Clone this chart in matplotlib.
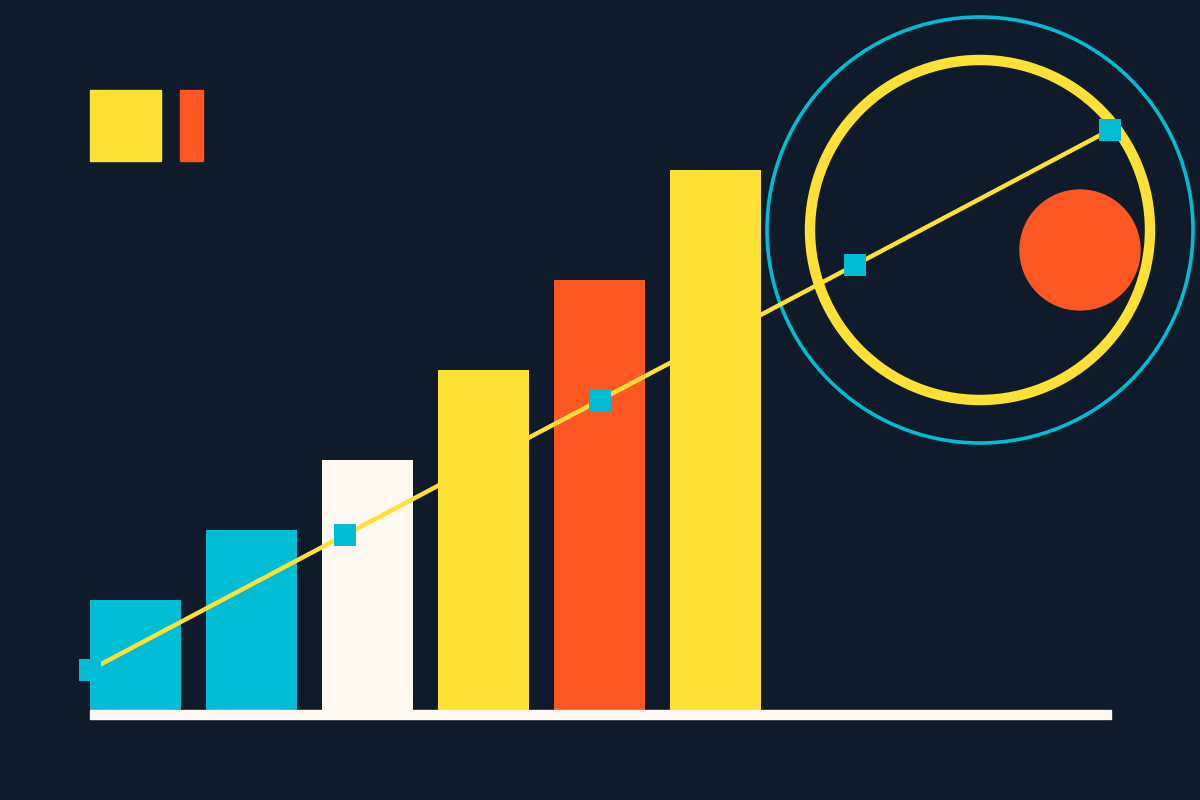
import matplotlib
matplotlib.use('Agg')
import matplotlib.pyplot as plt
from matplotlib.patches import Circle, Rectangle

BG = '#0F1B2A'
CYAN = '#00BCD4'
YELLOW = '#FFE135'
ORANGE = '#FF5722'
CREAM = '#FFF8F0'

# bars
bar_x = [135.5, 251.5, 367.5, 483.5, 599.5, 715.5]
bar_values = [110, 180, 250, 340, 430, 540]
bar_colors = [CYAN, CYAN, CREAM, YELLOW, ORANGE, YELLOW]

# trend line
line_x = [90, 345, 600, 855, 1110]
line_values = [40, 175, 310, 445, 580]

# rings and dot
ring_center = (980, 480)
outer_ring_r = 213
inner_ring_r = 170
dot_center = (1080, 460)
dot_r = 60

fig = plt.figure(figsize=(12, 8), dpi=100, facecolor=BG)
ax = fig.add_axes([0, 0, 1, 1])
ax.set_facecolor(BG)
ax.set_xlim(0, 1200)
ax.set_ylim(-90, 710)
ax.axis('off')

ax.bar(bar_x, bar_values, width=91, color=bar_colors, zorder=2)
ax.add_patch(Rectangle((90, -8.5), 1021, 8.5, color=CREAM, zorder=3))

ax.add_patch(Circle(ring_center, outer_ring_r, fill=False, ec=CYAN, lw=2.6, zorder=1))
ax.add_patch(Circle(ring_center, inner_ring_r, fill=False, ec=YELLOW, lw=7.5, zorder=1))
ax.add_patch(Circle(dot_center, dot_r, color=ORANGE, zorder=1))

ax.plot(line_x, line_values, color=YELLOW, lw=3.2, zorder=4)
ax.plot(line_x, line_values, ls='none', marker='s', ms=16.5, mew=0, color=CYAN, zorder=5)

# legend swatches
ax.add_patch(Rectangle((90, 549), 71, 71, color=YELLOW, zorder=2))
ax.add_patch(Rectangle((180, 549), 23, 71, color=ORANGE, zorder=2))

fig.savefig('out.png', facecolor=BG)
